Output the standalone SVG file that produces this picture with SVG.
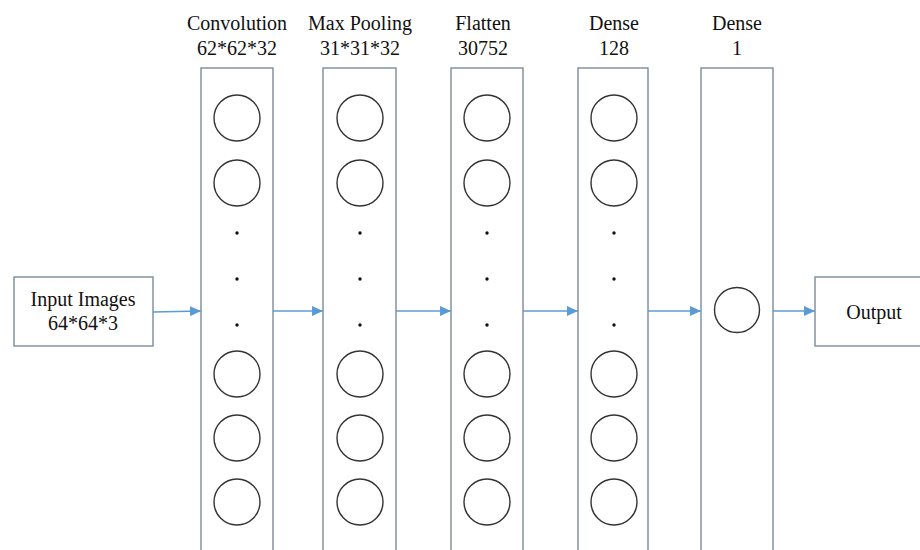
<svg xmlns="http://www.w3.org/2000/svg" width="920" height="550" viewBox="0 0 920 550">
<style>
.lbl{font-family:'Liberation Serif','Times New Roman',Tinos,'DejaVu Serif',serif;font-size:20px;fill:#111;text-anchor:middle}
.layer{fill:#ffffff;stroke:#7b8b9c;stroke-width:1.4}
.neuron{fill:#ffffff;stroke:#333;stroke-width:1.4}
.dot{fill:#111}
.conn{stroke:#5b9bd5;stroke-width:1.4;fill:none;marker-end:url(#ah)}
</style>
<defs>
<marker id="ah" markerWidth="12" markerHeight="10" refX="11" refY="5" orient="auto" markerUnits="userSpaceOnUse">
<path d="M0,0 L11,5 L0,10 Z" fill="#5b9bd5"/>
</marker>
<g id="stack">
<circle class="neuron" cx="0" cy="118" r="23"/>
<circle class="neuron" cx="0" cy="183" r="23"/>
<circle class="dot" cx="0" cy="233" r="1.7"/>
<circle class="dot" cx="0" cy="279" r="1.7"/>
<circle class="dot" cx="0" cy="325" r="1.7"/>
<circle class="neuron" cx="0" cy="374" r="23"/>
<circle class="neuron" cx="0" cy="438" r="23"/>
<circle class="neuron" cx="0" cy="502" r="23"/>
</g>
</defs>
<rect width="920" height="550" fill="#ffffff"/>

<g id="input">
<rect class="layer" x="14" y="277" width="139" height="69"/>
<text class="lbl" x="83" y="306" font-family="Liberation Serif, serif">Input Images</text>
<text class="lbl" x="83" y="330" font-family="Liberation Serif, serif">64*64*3</text>
</g>

<g id="conv">
<text class="lbl" x="237" y="30">Convolution</text>
<text class="lbl" x="237" y="55">62*62*32</text>
<rect class="layer" x="201" y="68" width="72" height="490"/>
<use href="#stack" x="237"/>
</g>

<g id="pool">
<text class="lbl" x="360" y="30">Max Pooling</text>
<text class="lbl" x="360" y="55">31*31*32</text>
<rect class="layer" x="323" y="68" width="73" height="490"/>
<use href="#stack" x="360"/>
</g>

<g id="flatten">
<text class="lbl" x="483" y="30">Flatten</text>
<text class="lbl" x="483" y="55">30752</text>
<rect class="layer" x="451" y="68" width="72" height="490"/>
<use href="#stack" x="487"/>
</g>

<g id="dense128">
<text class="lbl" x="614" y="30">Dense</text>
<text class="lbl" x="614" y="55">128</text>
<rect class="layer" x="578" y="68" width="70" height="490"/>
<use href="#stack" x="614"/>
</g>

<g id="dense1">
<text class="lbl" x="737" y="30">Dense</text>
<text class="lbl" x="737" y="55">1</text>
<rect class="layer" x="701" y="68" width="72" height="490"/>
<circle class="neuron" cx="737" cy="310" r="22.5"/>
</g>

<g id="output">
<rect class="layer" x="815" y="277" width="120" height="69"/>
<text class="lbl" x="874" y="319">Output</text>
</g>

<g id="connectors">
<line class="conn" x1="153" y1="312" x2="201" y2="311"/>
<line class="conn" x1="273" y1="311" x2="323" y2="311"/>
<line class="conn" x1="396" y1="311" x2="451" y2="311"/>
<line class="conn" x1="523" y1="311" x2="578" y2="311"/>
<line class="conn" x1="648" y1="311" x2="701" y2="311"/>
<line class="conn" x1="773" y1="311" x2="815" y2="311"/>
</g>
</svg>
